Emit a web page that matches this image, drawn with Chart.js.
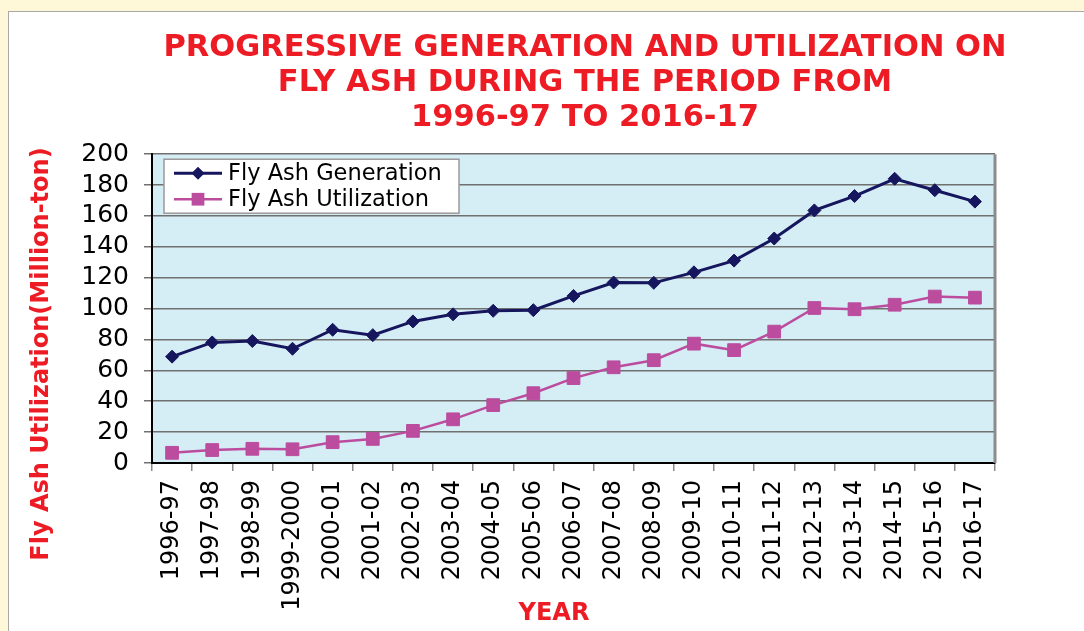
<!DOCTYPE html>
<html>
<head>
<meta charset="utf-8">
<title>Fly Ash Generation and Utilization</title>
<script src="https://cdn.jsdelivr.net/npm/chart.js@4.4.0/dist/chart.umd.min.js"></script>
<style>
  html, body { margin: 0; padding: 0; width: 1084px; height: 631px; overflow: hidden; background: #fff8d8; }
  #panel { position: absolute; left: 8px; top: 11px; width: 1100px; height: 640px; background: #fff;
           border-left: 1px solid #a8a8a8; border-top: 1px solid #a8a8a8; }
  /* canvas is wider than the window so the title centres where it does in the original */
  #wrap { position: absolute; left: 0; top: 0; width: 1170px; height: 631px; }
</style>
</head>
<body>
<div id="panel"></div>
<div id="wrap"><canvas id="flyAshChart" width="1170" height="631"></canvas></div>
<script>
const years = [
  "1996-97", "1997-98", "1998-99", "1999-2000", "2000-01", "2001-02", "2002-03",
  "2003-04", "2004-05", "2005-06", "2006-07", "2007-08", "2008-09", "2009-10",
  "2010-11", "2011-12", "2012-13", "2013-14", "2014-15", "2015-16", "2016-17",
];
const generation = [
  68.9, 78.1, 79.0, 74.0, 86.3, 82.8, 91.7, 96.3, 98.6, 99.0, 108.2,
  116.9, 116.7, 123.5, 131.1, 145.4, 163.6, 172.9, 184.1, 176.7, 169.3,
];
const utilization = [
  6.6, 8.4, 9.2, 8.9, 13.5, 15.6, 20.8, 28.3, 37.5, 45.2, 55.0,
  62.0, 66.6, 77.3, 73.1, 85.1, 100.4, 99.6, 102.5, 107.8, 107.1,
];
const yMin = 0;
const yMax = 200;
const yStep = 20;

const RED = "#ed1c24";
const FONT = "'DejaVu Sans', Verdana, sans-serif";

// light blue plot area + grey frame on the right
const plotFrame = {
  id: "plotFrame",
  beforeDraw(chart) {
    const { ctx, chartArea: a } = chart;
    ctx.save();
    ctx.fillStyle = "#d5edf4";
    ctx.fillRect(a.left, a.top, a.right - a.left, a.bottom - a.top);
    ctx.restore();
  },
  beforeDatasetsDraw(chart) {
    const { ctx, chartArea: a } = chart;
    ctx.save();
    ctx.strokeStyle = "#8c8c8c";
    ctx.lineWidth = 3;
    ctx.beginPath();
    ctx.moveTo(a.right, a.top);
    ctx.lineTo(a.right, a.bottom);
    ctx.stroke();
    ctx.restore();
  },
};

function drawMarker(ctx, style, r, x, y) {
  ctx.beginPath();
  if (style === "rectRot") {
    ctx.moveTo(x, y - r);
    ctx.lineTo(x + r, y);
    ctx.lineTo(x, y + r);
    ctx.lineTo(x - r, y);
    ctx.closePath();
  } else {
    const h = r * Math.SQRT1_2;
    ctx.rect(x - h, y - h, 2 * h, 2 * h);
  }
  ctx.fill();
}

// legend box sitting inside the plot, top-left
const boxLegend = {
  id: "boxLegend",
  afterDatasetsDraw(chart) {
    const { ctx, chartArea: a } = chart;
    const x = a.left + 12, y = a.top + 5, w = 295, h = 54;
    ctx.save();
    ctx.fillStyle = "#fff";
    ctx.fillRect(x, y, w, h);
    ctx.strokeStyle = "#9a9a9a";
    ctx.lineWidth = 1.5;
    ctx.strokeRect(x, y, w, h);
    chart.data.datasets.forEach((ds, i) => {
      const cy = y + 14 + i * 26;
      ctx.strokeStyle = ds.borderColor;
      ctx.lineWidth = ds.borderWidth;
      ctx.beginPath();
      ctx.moveTo(x + 10, cy);
      ctx.lineTo(x + 58, cy);
      ctx.stroke();
      ctx.fillStyle = ds.backgroundColor;
      drawMarker(ctx, ds.pointStyle, ds.pointRadius, x + 34, cy);
      ctx.fillStyle = "#000";
      ctx.font = "22.5px " + FONT;
      ctx.textBaseline = "middle";
      ctx.textAlign = "left";
      ctx.fillText(ds.label, x + 64, cy + 1);
    });
    ctx.restore();
  },
};

// axis titles: placed off-centre like the original
const axisTitles = {
  id: "axisTitles",
  afterDraw(chart) {
    const ctx = chart.ctx;
    ctx.save();
    ctx.fillStyle = RED;
    ctx.font = "bold 24px " + FONT;
    ctx.textAlign = "center";
    ctx.textBaseline = "alphabetic";
    ctx.fillText("YEAR", 554, 620);
    ctx.translate(48, 354);
    ctx.rotate(-Math.PI / 2);
    ctx.fillText("Fly Ash Utilization(Million-ton)", 0, 0);
    ctx.restore();
  },
};

const ctx = document.getElementById("flyAshChart").getContext("2d");
new Chart(ctx, {
  type: "line",
  data: {
    labels: years,
    datasets: [
      {
        label: "Fly Ash Generation",
        data: generation,
        borderColor: "#16165e",
        backgroundColor: "#16165e",
        borderWidth: 3,
        pointStyle: "rectRot",
        pointRadius: 6.5,
        pointBorderWidth: 1,
        tension: 0,
      },
      {
        label: "Fly Ash Utilization",
        data: utilization,
        borderColor: "#bb4c9e",
        backgroundColor: "#bb4c9e",
        borderWidth: 2.5,
        pointStyle: "rect",
        pointRadius: 9,
        pointBorderWidth: 1,
        tension: 0,
      },
    ],
  },
  options: {
    responsive: false,
    animation: false,
    devicePixelRatio: 1,
    layout: { padding: 0 },
    plugins: {
      legend: { display: false },
      tooltip: { enabled: false },
      title: {
        display: true,
        text: [
          "PROGRESSIVE GENERATION AND UTILIZATION ON",
          "FLY ASH DURING THE PERIOD FROM",
          "1996-97 TO 2016-17",
        ],
        color: RED,
        font: { family: FONT, size: 30.5, weight: "bold", lineHeight: 1.15 },
        padding: { top: 30.5, bottom: 18.5 },
      },
    },
    scales: {
      x: {
        offset: true,
        afterFit: (s) => { s.height = 168; },
        grid: {
          offset: true,
          drawOnChartArea: false,
          drawTicks: true,
          tickLength: 8,
          tickColor: "#8a8a8a",
          lineWidth: 1.5,
        },
        border: { display: true, color: "#000", width: 2 },
        ticks: {
          autoSkip: false,
          maxRotation: 90,
          minRotation: 90,
          padding: 9,
          color: "#000",
          font: { family: FONT, size: 24 },
        },
      },
      y: {
        min: yMin,
        max: yMax,
        afterFit: (s) => { s.width = 152; },
        grid: {
          color: "#707070",
          lineWidth: 1.5,
          tickColor: "#707070",
          tickLength: 8,
        },
        border: { display: true, color: "#000", width: 2 },
        ticks: {
          stepSize: yStep,
          autoSkip: false,
          padding: 15,
          color: "#000",
          font: { family: FONT, size: 25, lineHeight: 1 },
        },
      },
      // empty spacer on the right so the plot ends where the original does
      spacer: {
        type: "linear",
        position: "right",
        afterFit: (s) => { s.width = 175; },
        grid: { display: false },
        border: { display: false },
        ticks: { display: false },
      },
    },
  },
  plugins: [plotFrame, boxLegend, axisTitles],
});
</script>
</body>
</html>
